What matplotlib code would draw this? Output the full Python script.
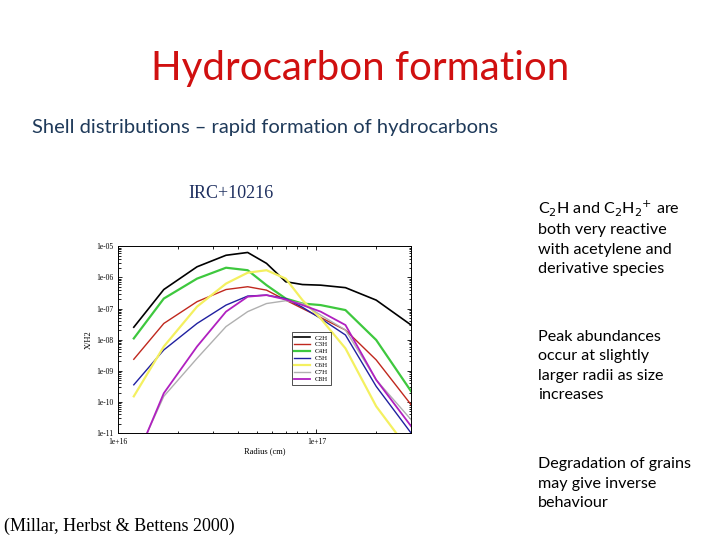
import matplotlib
matplotlib.use("Agg")
import matplotlib.pyplot as plt
from matplotlib.ticker import FixedLocator, FixedFormatter, LogLocator, NullFormatter

radius = [1.2e16, 1.7e16, 2.5e16, 3.5e16, 4.5e16, 5.6e16, 7e16, 8.5e16, 1.05e17, 1.4e17, 2e17, 3e17]
radius_long = [1.4e16] + radius[1:]
species = ["C2H", "C3H", "C4H", "C5H", "C6H", "C7H", "C8H"]
colors = ["#000000", "#c0281e", "#3ec83e", "#2020a0", "#f4f060", "#b0b0b0", "#b020c0"]
widths = [1.2, 1.0, 1.6, 1.0, 1.6, 1.0, 1.3]
log_abund = {
    "C2H": [-7.60, -6.39, -5.66, -5.29, -5.20, -5.55, -6.14, -6.23, -6.25, -6.33, -6.73, -7.53],
    "C3H": [-8.63, -7.48, -6.78, -6.39, -6.30, -6.41, -6.73, -7.00, -7.29, -7.69, -8.65, -10.09],
    "C4H": [-7.96, -6.68, -6.04, -5.69, -5.77, -6.25, -6.68, -6.84, -6.89, -7.05, -8.01, -9.66],
    "C5H": [-9.45, -8.33, -7.48, -6.89, -6.60, -6.57, -6.68, -6.96, -7.32, -7.85, -9.50, -11.0],
    "C6H": [-9.82, -8.22, -6.94, -6.20, -5.85, -5.77, -6.04, -6.73, -7.32, -8.28, -10.14, -11.64],
    "C7H": [-11.0, -9.82, -8.60, -7.58, -7.10, -6.84, -6.75, -6.84, -7.21, -7.69, -9.29, -10.57],
    "C8H": [-11.0, -9.72, -8.22, -7.10, -6.62, -6.57, -6.71, -6.89, -7.10, -7.53, -9.29, -10.78],
}
ytick_vals = [1e-11, 1e-10, 1e-9, 1e-8, 1e-7, 1e-6, 1e-5]
ytick_labels = ["1e-11", "1e-10", "1e-09", "1e-08", "1e-07", "1e-06", "1e-05"]
xtick_vals = [1e16, 1e17]
xtick_labels = ["1e+16", "1e+17"]

fig = plt.figure(figsize=(7.2, 5.4), dpi=100)
fig.patch.set_facecolor("white")
fig.text(0.5, 0.874, "Hydrocarbon formation", ha="center", va="center",
         fontsize=29, color="#d01010", family="Lato")
fig.text(0.044, 0.763, "Shell distributions \u2013 rapid formation of hydrocarbons",
         ha="left", va="center", fontsize=14.5, color="#1f3a5a", family="Lato")
fig.text(0.262, 0.641, "IRC+10216", ha="left", va="center", fontsize=13,
         color="#1f3060", family="Liberation Serif")
fig.text(0.005, 0.025, "(Millar, Herbst & Bettens 2000)", ha="left", va="center",
         fontsize=13, color="#000000", family="Liberation Serif")

side = [
    (0.747, 0.561, "C$_2$H and C$_2$H$_2$$^{+}$ are\nboth very reactive\nwith acetylene and\nderivative species"),
    (0.747, 0.322, "Peak abundances\noccur at slightly\nlarger radii as size\nincreases"),
    (0.747, 0.104, "Degradation of grains\nmay give inverse\nbehaviour"),
]
for x, y, t in side:
    fig.text(x, y, t, ha="left", va="center", fontsize=11.6, color="#000000",
             family="Lato", linespacing=1.5)

ax = fig.add_axes([0.164, 0.198, 0.407, 0.346])
for sp, c, w in zip(species, colors, widths):
    xs = radius_long if sp in ("C7H", "C8H") else radius
    ax.plot(xs, [10 ** v for v in log_abund[sp]], color=c, lw=w, label=sp)
ax.set_xscale("log")
ax.set_yscale("log")
ax.set_xlim(1e16, 3e17)
ax.set_ylim(1e-11, 1e-5)
ax.yaxis.set_major_locator(FixedLocator(ytick_vals))
ax.yaxis.set_major_formatter(FixedFormatter(ytick_labels))
ax.xaxis.set_major_locator(FixedLocator(xtick_vals))
ax.xaxis.set_major_formatter(FixedFormatter(xtick_labels))
ax.yaxis.set_minor_locator(LogLocator(subs=range(2, 10)))
ax.yaxis.set_minor_formatter(NullFormatter())
ax.xaxis.set_minor_locator(LogLocator(subs=range(2, 10)))
ax.xaxis.set_minor_formatter(NullFormatter())
ax.tick_params(which="both", direction="in", top=True, right=True, labelsize=5.5,
               length=3, width=0.6)
ax.tick_params(which="minor", length=1.8)
for lab in ax.get_xticklabels() + ax.get_yticklabels():
    lab.set_family("Liberation Serif")
ax.set_xlabel("Radius (cm)", fontsize=6, family="Liberation Serif", labelpad=1)
ax.set_ylabel("X/H2", fontsize=6, family="Liberation Serif", labelpad=2)
for s in ax.spines.values():
    s.set_linewidth(0.7)
leg = ax.legend(loc="upper left", bbox_to_anchor=(0.58, 0.56), fontsize=5,
                frameon=True, fancybox=False, edgecolor="black", handlelength=2.2,
                labelspacing=0.15, borderpad=0.4, prop={"family": "Liberation Serif", "size": 5})
leg.get_frame().set_linewidth(0.6)

fig.savefig("out.png", dpi=100, facecolor="white")
